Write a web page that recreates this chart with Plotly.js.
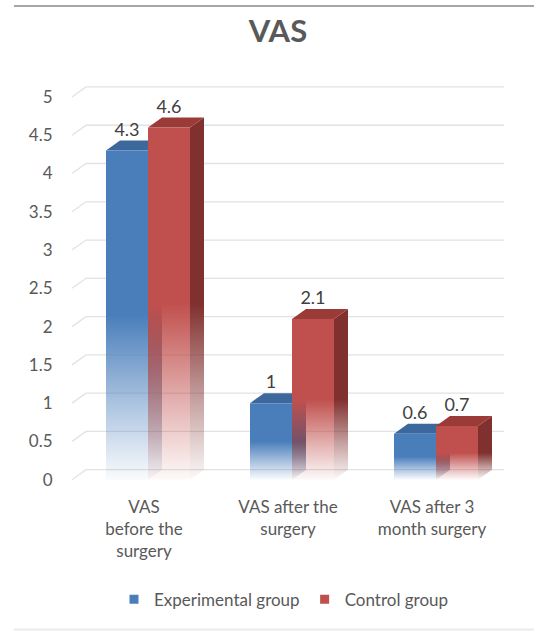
<!DOCTYPE html>
<html><head><meta charset="utf-8">
<script src="https://cdn.plot.ly/plotly-3.0.1.min.js"></script>
<style>html,body{margin:0;padding:0;background:#fff;}#chart{width:534px;height:639px;}</style>
</head><body><div id="chart"></div>
<script>
// ---- data ----
const categories = ['VAS<br>before the<br>surgery', 'VAS after the<br>surgery', 'VAS after 3<br>month surgery'];
const seriesNames = ['Experimental group', 'Control group'];
const experimental = [4.3, 1, 0.6];
const control = [4.6, 2.1, 0.7];
const yTicks = [0, 0.5, 1, 1.5, 2, 2.5, 3, 3.5, 4, 4.5, 5];
const chartTitle = 'VAS';

// ---- style / geometry ----
const W = 534, H = 639;
const ML = 72, MT = 74, PW = 432;           // plot area
const XR = [-0.5, 2.5], YR = [-0.2, 5.3];
const PXX = (XR[1] - XR[0]) / PW;            // x units per px
const PH = 421.3;
const PXY = (YR[1] - YR[0]) / PH;            // y units per px
const MB = H - MT - PH;
const FRONT_OFF = -38 * PXX, BAR_W = 42 * PXX, DX = 14 * PXX, DV = 10 * PXY;
const FONT = 'Lato, "Open Sans", sans-serif';
const frontRGB = [[74, 126, 187], [192, 80, 77]];
const topCol = ['#3d689c', '#9b3b38'];
const sideRGB = [[47, 85, 130], [128, 48, 46]];
const rgba = (c, a) => `rgba(${c[0]},${c[1]},${c[2]},${a})`;
const fade = c => [[0, rgba(c, 0.03)], [0.45, rgba(c, 0.45)], [1, rgba(c, 1)]];

const seriesVals = [experimental, control];
const traces = [];
seriesVals.forEach((vals, s) => {
  vals.forEach((v, i) => {
    const x0 = i + FRONT_OFF + s * BAR_W, x1 = x0 + BAR_W;
    // side face
    traces.push({type: 'scatter', mode: 'none', fill: 'toself', hoverinfo: 'skip', showlegend: false,
      x: [x1, x1 + DX, x1 + DX, x1, x1], y: [0, DV, v + DV, v, 0],
      fillgradient: {type: 'vertical', start: 0, stop: v * 0.5, colorscale: fade(sideRGB[s])}});
    // top face
    traces.push({type: 'scatter', mode: 'none', fill: 'toself', hoverinfo: 'skip', showlegend: false,
      x: [x0, x0 + DX, x1 + DX, x1, x0], y: [v, v + DV, v + DV, v, v], fillcolor: topCol[s]});
    // front face
    traces.push({type: 'scatter', mode: 'none', fill: 'toself', hoverinfo: 'skip', showlegend: false,
      x: [x0, x1, x1, x0, x0], y: [0, 0, v, v, 0],
      fillgradient: {type: 'vertical', start: 0, stop: v * 0.5, colorscale: fade(frontRGB[s])}});
  });
});
// data labels
seriesVals.forEach((vals, s) => {
  traces.push({type: 'scatter', mode: 'text', hoverinfo: 'skip', showlegend: false,
    x: vals.map((v, i) => i + FRONT_OFF + s * BAR_W + BAR_W / 2),
    y: vals.map(v => v + DV * 1.05),
    text: vals.map(v => String(v)), textposition: 'top center',
    textfont: {family: FONT, size: 18, color: '#404040'}});
});
// legend entries
seriesNames.forEach((n, s) => {
  traces.push({type: 'scatter', mode: 'markers', name: n, x: [null], y: [null], hoverinfo: 'skip',
    marker: {symbol: 'square', size: 9, color: rgba(frontRGB[s], 1)}});
});

// back-wall gridlines
const shapes = yTicks.map(t => ({type: 'path', xref: 'x', yref: 'y', layer: 'below',
  path: `M ${XR[0]},${t} L ${XR[0] + DX},${t + DV} L ${XR[1] + DX * 0.6},${t + DV}`,
  line: {color: '#e2e2e2', width: 1.3}}));
const pxX = px => (px - ML) / PW;
const pxY = py => (MT + PH - py) / PH;
shapes.push({type: 'line', xref: 'paper', yref: 'paper', x0: pxX(14), x1: pxX(534), y0: pxY(6), y1: pxY(6),
  line: {color: '#a6a6a6', width: 2}});
shapes.push({type: 'line', xref: 'paper', yref: 'paper', x0: pxX(14), x1: pxX(534), y0: pxY(630), y1: pxY(630),
  line: {color: '#ebebeb', width: 2}});

const layout = {
  width: W, height: H,
  margin: {l: ML, t: MT, r: W - ML - PW, b: MB, pad: 0},
  paper_bgcolor: '#fff', plot_bgcolor: 'rgba(0,0,0,0)',
  font: {family: FONT, color: '#595959'},
  title: {text: chartTitle, font: {family: FONT, size: 31, color: '#595959', weight: 'bold'},
    x: 278 / W, xref: 'container', xanchor: 'center', y: 1 - 31 / H, yref: 'container', yanchor: 'middle'},
  xaxis: {range: XR, tickvals: [0, 1, 2], ticktext: categories, showgrid: false, zeroline: false,
    showline: false, ticks: '', tickfont: {family: FONT, size: 17, color: '#595959'}, fixedrange: true},
  yaxis: {range: YR, tickvals: yTicks, showgrid: false, zeroline: false, showline: false,
    ticks: 'outside', ticklen: 15, tickcolor: 'rgba(0,0,0,0)',
    tickfont: {family: FONT, size: 17, color: '#595959'}, fixedrange: true},
  showlegend: true,
  legend: {orientation: 'h', x: pxX(284), xanchor: 'center', y: pxY(600), yanchor: 'middle',
    font: {family: FONT, size: 17, color: '#595959'}, traceorder: 'normal', bgcolor: 'rgba(0,0,0,0)'},
  shapes: shapes
};
Plotly.newPlot('chart', traces, layout, {displayModeBar: false, staticPlot: true});
</script></body></html>
